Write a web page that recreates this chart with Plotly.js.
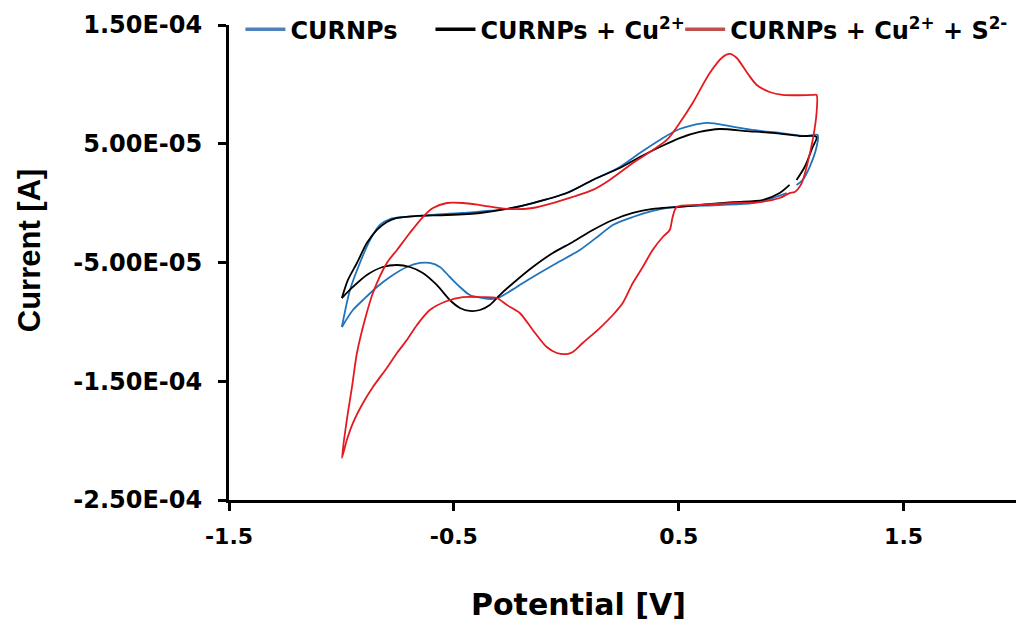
<!DOCTYPE html>
<html>
<head>
<meta charset="utf-8">
<script src="https://cdn.plot.ly/plotly-3.0.1.min.js"></script>
<style>
html,body{margin:0;padding:0;background:#fff;}
#chart{width:1019px;height:621px;}
</style>
</head>
<body>
<div id="chart"></div>
<script>
// Potential [V] and current [A] (one full CV loop each)
var curnpsV = [-0.998,-0.962,-0.918,-0.873,-0.829,-0.784,-0.727,-0.607,-0.460,-0.264,-0.149,0.002,0.118,0.238,0.327,0.416,0.504,0.624,0.727,0.829,0.949,1.069,1.118,1.113,1.082,1.051,1.024,null,0.980,0.918,0.829,0.682,0.473,0.384,0.296,0.207,0.149,0.060,-0.042,-0.149,-0.220,-0.296,-0.327,-0.371,-0.429,-0.473,-0.518,-0.562,-0.607,-0.651,-0.709,-0.784,-0.842,-0.904,-0.949,-0.998];
var curnpsI = [-10.43e-5,-7.32e-5,-5.04e-5,-3.11e-5,-1.84e-5,-1.34e-5,-1.17e-5,-1.00e-5,-0.83e-5,-0.49e-5,0.01e-5,0.85e-5,1.95e-5,3.05e-5,4.22e-5,5.32e-5,6.24e-5,6.75e-5,6.49e-5,6.16e-5,5.91e-5,5.65e-5,5.74e-5,4.73e-5,3.04e-5,1.95e-5,1.53e-5,null,0.85e-5,0.43e-5,0.01e-5,-0.16e-5,-0.33e-5,-0.66e-5,-1.17e-5,-1.84e-5,-2.68e-5,-3.95e-5,-5.04e-5,-6.22e-5,-7.06e-5,-7.91e-5,-8.07e-5,-7.99e-5,-7.74e-5,-7.06e-5,-6.22e-5,-5.38e-5,-5.04e-5,-5.04e-5,-5.38e-5,-6.22e-5,-7.06e-5,-8.16e-5,-9.00e-5,-10.43e-5];

var cuV = [-0.998,-0.971,-0.931,-0.887,-0.842,-0.798,-0.753,-0.664,-0.531,-0.384,-0.264,-0.149,0.002,0.118,0.238,0.327,0.416,0.504,0.593,0.682,0.802,0.918,1.038,1.113,1.096,1.060,1.024,null,0.993,0.949,0.873,0.740,0.491,0.384,0.296,0.207,0.118,0.029,-0.060,-0.149,-0.220,-0.296,-0.340,-0.384,-0.429,-0.473,-0.518,-0.576,-0.638,-0.696,-0.753,-0.816,-0.887,-0.949,-0.998];
var cuI = [-7.99e-5,-6.47e-5,-5.04e-5,-3.36e-5,-2.26e-5,-1.59e-5,-1.25e-5,-1.08e-5,-1.00e-5,-0.83e-5,-0.49e-5,0.01e-5,0.85e-5,1.95e-5,2.96e-5,3.88e-5,4.73e-5,5.48e-5,5.99e-5,6.24e-5,6.07e-5,5.91e-5,5.65e-5,5.57e-5,4.73e-5,3.04e-5,1.95e-5,null,1.53e-5,0.85e-5,0.26e-5,0.09e-5,-0.33e-5,-0.49e-5,-0.83e-5,-1.42e-5,-2.26e-5,-3.27e-5,-4.20e-5,-5.38e-5,-6.47e-5,-7.74e-5,-8.58e-5,-9.00e-5,-9.08e-5,-8.83e-5,-8.16e-5,-6.89e-5,-5.88e-5,-5.38e-5,-5.21e-5,-5.38e-5,-6.05e-5,-7.06e-5,-7.99e-5];

var cuSV = [-0.998,-0.976,-0.953,-0.931,-0.896,-0.860,-0.798,-0.753,-0.696,-0.638,-0.593,-0.531,-0.460,-0.384,-0.264,-0.149,-0.060,0.029,0.118,0.193,0.296,0.447,0.504,0.562,0.638,0.696,0.727,0.758,0.802,0.847,0.904,0.962,1.096,1.113,1.113,1.096,1.073,1.047,1.016,0.993,0.949,0.860,0.740,0.593,0.491,0.473,0.460,0.429,0.384,0.340,0.296,0.251,0.207,0.149,0.073,0.029,0.002,-0.042,-0.087,-0.149,-0.207,-0.264,-0.309,-0.384,-0.460,-0.531,-0.607,-0.664,-0.709,-0.753,-0.798,-0.860,-0.904,-0.949,-0.976,-0.998];
var cuSI = [-21.46e-5,-18.26e-5,-15.48e-5,-12.62e-5,-9.84e-5,-7.57e-5,-5.04e-5,-3.95e-5,-2.52e-5,-1.17e-5,-0.41e-5,0.01e-5,0.01e-5,-0.16e-5,-0.49e-5,-0.41e-5,0.01e-5,0.52e-5,1.11e-5,1.95e-5,3.38e-5,5.32e-5,6.75e-5,8.43e-5,10.96e-5,12.31e-5,12.56e-5,12.22e-5,11.04e-5,9.95e-5,9.36e-5,9.11e-5,9.11e-5,9.11e-5,7.59e-5,5.32e-5,3.38e-5,1.69e-5,0.94e-5,0.85e-5,0.43e-5,0.09e-5,0.01e-5,-0.16e-5,-0.33e-5,-1.17e-5,-2.26e-5,-2.85e-5,-3.95e-5,-5.38e-5,-6.73e-5,-8.41e-5,-9.42e-5,-10.52e-5,-11.78e-5,-12.54e-5,-12.71e-5,-12.62e-5,-12.12e-5,-10.68e-5,-9.25e-5,-8.58e-5,-7.99e-5,-7.91e-5,-7.91e-5,-8.24e-5,-9.00e-5,-10.26e-5,-11.53e-5,-12.62e-5,-13.88e-5,-15.48e-5,-16.83e-5,-18.52e-5,-19.95e-5,-21.46e-5];

var seriesNames = ['CURNPs', 'CURNPs + Cu<sup>2+</sup>', 'CURNPs + Cu<sup>2+</sup> + S<sup>2-</sup>'];
var xTicks = [-1.5, -0.5, 0.5, 1.5];
var xTickText = ['-1.5', '-0.5', '0.5', '1.5'];
var yTicks = [-2.5e-4, -1.5e-4, -5e-5, 5e-5, 1.5e-4];
var yTickText = ['-2.50E-04', '-1.50E-04', '-5.00E-05', '5.00E-05', '1.50E-04'];
var xTitle = 'Potential [V]';
var yTitle = 'Current [A]';

var lineColors = ['#1f74bd', '#000000', '#e41a1f'];
var legendColors = ['#4f81bd', '#000000', '#c0504d'];
var legendIds = ['legend', 'legend2', 'legend3'];

var xs = [curnpsV, cuV, cuSV];
var ys = [curnpsI, cuI, cuSI];
var traces = [];
for (var i = 0; i < 3; i++) {
  traces.push({
    x: xs[i], y: ys[i], type: 'scatter', mode: 'lines',
    line: {color: lineColors[i], width: 1.8, shape: 'spline', smoothing: 0.8},
    connectgaps: false, showlegend: false, hoverinfo: 'skip'
  });
}
for (var j = 0; j < 3; j++) {
  traces.push({
    x: [null], y: [null], type: 'scatter', mode: 'lines', name: seriesNames[j],
    line: {color: legendColors[j], width: 3.5}, legend: legendIds[j], showlegend: true
  });
}

var fontW = 'DejaVu Sans, Arial, sans-serif';
var legendFont = {family: fontW, size: 24, color: '#000', weight: 'bold'};
function legendAt(x) {
  return {x: x, y: 0.99, xanchor: 'left', yanchor: 'middle', orientation: 'h',
    font: legendFont, bgcolor: 'rgba(0,0,0,0)', borderwidth: 0, itemwidth: 40};
}

var layout = {
  width: 1019, height: 621,
  margin: {l: 229, r: 3, t: 25, b: 121},
  paper_bgcolor: '#fff', plot_bgcolor: '#fff',
  font: {family: fontW, color: '#000'},
  xaxis: {
    range: [-1.5, 2.0], tickmode: 'array', tickvals: xTicks, ticktext: xTickText,
    showgrid: false, zeroline: false, showline: true, linecolor: '#000', linewidth: 3,
    ticks: 'outside', ticklen: 8, tickwidth: 3, tickcolor: '#000',
    tickfont: {family: fontW, size: 22, color: '#000', weight: 'bold'},
    ticklabelstandoff: 7
  },
  yaxis: {
    range: [-2.5e-4, 1.5e-4], tickmode: 'array', tickvals: yTicks, ticktext: yTickText,
    showgrid: false, zeroline: false, showline: true, linecolor: '#000', linewidth: 3,
    ticks: 'outside', ticklen: 8, tickwidth: 3, tickcolor: '#000',
    tickfont: {family: fontW, size: 24, color: '#000', weight: 'bold'},
    ticklabelstandoff: 11
  },
  annotations: [
    {text: xTitle, xref: 'paper', yref: 'paper', x: 0.4447, y: -0.219, xanchor: 'center', yanchor: 'middle',
     showarrow: false, font: {family: fontW, size: 30, color: '#000', weight: 'bold'}},
    {text: yTitle, xref: 'paper', yref: 'paper', x: -0.254, y: 0.526, xanchor: 'center', yanchor: 'middle',
     textangle: -90, showarrow: false, font: {family: 'Liberation Sans, Arial, sans-serif', size: 31, color: '#000', weight: 'bold'}}
  ],
  legend: legendAt(0.0145),
  legend2: legendAt(0.256),
  legend3: legendAt(0.5733),
  showlegend: true
};

Plotly.newPlot('chart', traces, layout, {displayModeBar: false, staticPlot: true});
</script>
</body>
</html>
